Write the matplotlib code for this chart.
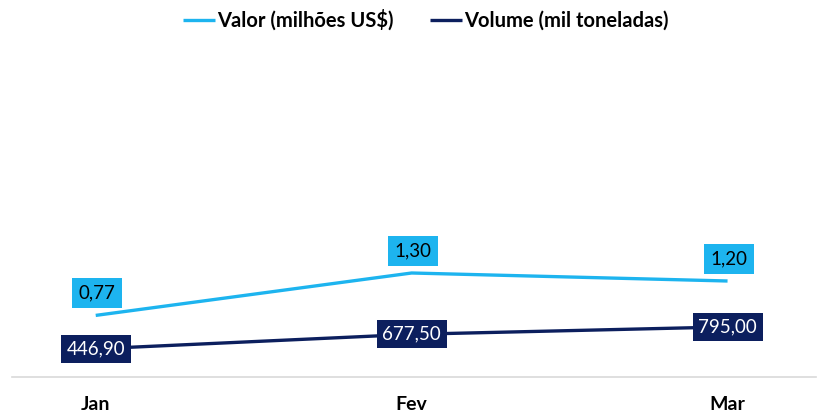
import matplotlib.pyplot as plt

meses = ['Jan', 'Fev', 'Mar']
valor = [0.77, 1.30, 1.20]
volume = [446.90, 677.50, 795.00]

azul_claro = '#1db4ef'
azul_escuro = '#0c1f5e'

plt.rcParams['font.family'] = ['Lato', 'DejaVu Sans']

fig = plt.figure(figsize=(8.27, 4.17), dpi=100)
ax = fig.add_axes([12/827, 40/417, 804/827, 332/417])
ax2 = ax.twinx()

x = range(len(meses))
l1, = ax.plot(x, valor, color=azul_claro, lw=2.4, solid_capstyle='butt', label='Valor (milhões US$)')
l2, = ax2.plot(x, volume, color=azul_escuro, lw=2.4, solid_capstyle='butt', label='Volume (mil toneladas)')

ax.set_xlim(-0.265, 2.28)
ax.set_ylim(0, 332/80)
ax2.set_ylim(0, 332/0.063)

def fmt(v):
    return f'{v:.2f}'.replace('.', ',')

for i, v in enumerate(valor):
    ax.annotate(fmt(v), (i, v), xytext=(1, 16), textcoords='offset points',
                ha='center', va='center', fontsize=13.5, color='black',
                bbox=dict(boxstyle='square,pad=0.35', fc=azul_claro, ec='none'))
for i, v in enumerate(volume):
    ax2.annotate(fmt(v), (i, v), ha='center', va='center', fontsize=13.5, color='white',
                 bbox=dict(boxstyle='square,pad=0.3', fc=azul_escuro, ec='none'))

for a in (ax, ax2):
    for s in ['top', 'left', 'right']:
        a.spines[s].set_visible(False)
    a.set_yticks([])
ax2.spines['bottom'].set_visible(False)
ax.spines['bottom'].set_color('#d9d9d9')
ax.spines['bottom'].set_linewidth(1.2)

ax.set_xticks(list(x))
ax.set_xticklabels(meses, fontsize=14, fontweight='bold')
ax.tick_params(axis='x', length=0, pad=14)

fig.legend(handles=[l1, l2], loc='center', bbox_to_anchor=(0.515, 1 - 20/417), ncol=2,
           frameon=False, handlelength=1.6, handletextpad=0.1, columnspacing=1.8,
           prop={'weight': 'bold', 'size': 14.5})

fig.savefig('out.png', dpi=100)
